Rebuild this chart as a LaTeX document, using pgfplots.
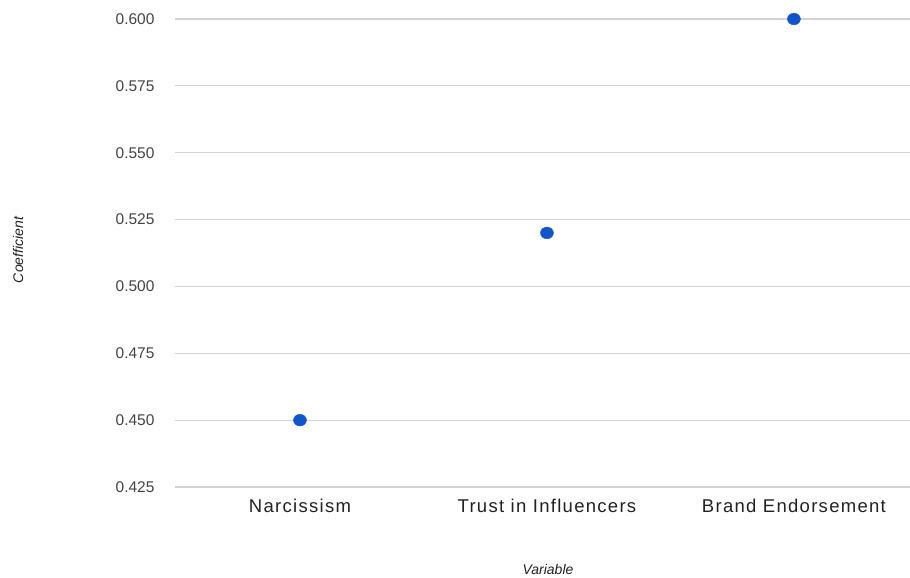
\documentclass[border=0pt]{standalone}
\usepackage{pgfplots}
\pgfplotsset{compat=1.18}
\usepackage{fontspec}
\setmainfont{Liberation Sans}
\definecolor{dotblue}{RGB}{17,85,204}
\definecolor{gridgray}{RGB}{210,210,210}
\definecolor{ticktext}{RGB}{68,68,68}
\definecolor{labtext}{RGB}{34,34,34}
\begin{document}
\begin{tikzpicture}
\path[use as bounding box] (0pt,0pt) rectangle (910pt,-578pt);
\begin{axis}[
    at={(175pt,-487pt)}, anchor=south west,
    scale only axis,
    width=735pt, height=468pt,
    xmin=-0.506, xmax=2.47,
    ymin=0.425, ymax=0.600,
    ytick={0.425,0.450,0.475,0.500,0.525,0.550,0.575,0.600},
    /pgf/number format/fixed,
    /pgf/number format/fixed zerofill,
    /pgf/number format/precision=3,
    /pgf/number format/assume math mode=true,
    yticklabel style={font=\fontsize{15.5}{17}\selectfont, text=ticktext, xshift=-17pt},
    xtick={0,1,2},
    xticklabels={Narcissism, Trust in Influencers, Brand Endorsement},
    xticklabel style={font=\addfontfeatures{LetterSpace=7}\fontsize{18.5}{20}\selectfont, text=labtext, yshift=-9pt},
    major tick length=0pt,
    axis line style={draw=none},
    ymajorgrids=true,
    grid style={gridgray, line width=1.2pt},
    clip=false,
]
\addplot[only marks, mark=*, mark size=6.5pt, mark options={draw=dotblue, fill=dotblue, yscale=0.9}]
    coordinates {(0,0.450) (1,0.520) (2,0.600)};
\end{axis}
\node[font=\itshape\fontsize{14}{16}\selectfont, text=labtext, rotate=90] at (18pt,-250pt) {Coefficient};
\node[font=\itshape\fontsize{14}{16}\selectfont, text=labtext] at (548pt,-569pt) {Variable};
\end{tikzpicture}
\end{document}
